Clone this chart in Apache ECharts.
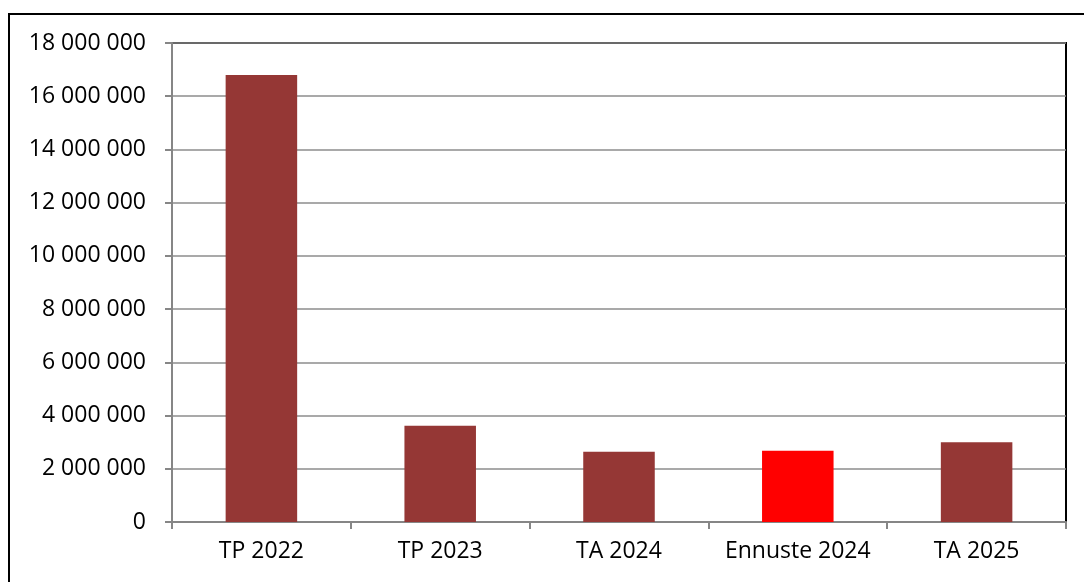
<!DOCTYPE html>
<html>
<head>
<meta charset="utf-8">
<script src="https://cdn.jsdelivr.net/npm/echarts@6/dist/echarts.min.js"></script>
<style>
html,body{margin:0;padding:0;background:#fff;}
#c{width:1084px;height:582px;}
</style>
</head>
<body>
<div id="c"></div>
<script>
var categories = ['TP 2022', 'TP 2023', 'TA 2024', 'Ennuste 2024', 'TA 2025'];
var values = [16800000, 3620000, 2640000, 2680000, 3000000];
var barColors = ['#953735', '#953735', '#953735', '#FF0000', '#953735'];

var chart = echarts.init(document.getElementById('c'), null, {renderer: 'canvas'});
function fmt(v) {
  return String(v).replace(/\B(?=(\d{3})+(?!\d))/g, ' ');
}
var font = 'Open Sans';
chart.setOption({
  animation: false,
  backgroundColor: '#fff',
  graphic: [{
    type: 'rect',
    shape: {x: 9, y: 14, width: 1100, height: 600},
    style: {fill: 'none', stroke: '#000', lineWidth: 2},
    z: 0
  }],
  grid: {
    left: 172, right: 18, top: 43, bottom: 60,
    show: true, borderColor: '#000', borderWidth: 2, backgroundColor: 'transparent'
  },
  xAxis: {
    type: 'category',
    data: categories,
    axisLine: {lineStyle: {color: '#868686', width: 2}},
    axisTick: {show: true, interval: 0, length: 7, lineStyle: {color: '#868686', width: 2}, alignWithLabel: false},
    axisLabel: {interval: 0, hideOverlap: false, color: '#000', fontFamily: font, fontSize: 23, margin: 18}
  },
  yAxis: {
    type: 'value',
    min: 0, max: 18000000, interval: 2000000,
    axisLine: {show: true, lineStyle: {color: '#868686', width: 2}},
    axisTick: {show: true, length: 7, lineStyle: {color: '#868686', width: 2}},
    splitLine: {lineStyle: {color: '#8c8c8c', width: 1.5}},
    axisLabel: {color: '#000', fontFamily: font, fontSize: 23, margin: 26, formatter: fmt}
  },
  series: [{
    type: 'bar',
    barWidth: '40%',
    data: values.map(function (v, i) {
      return {value: v, itemStyle: {color: barColors[i]}};
    })
  }]
});
</script>
</body>
</html>
